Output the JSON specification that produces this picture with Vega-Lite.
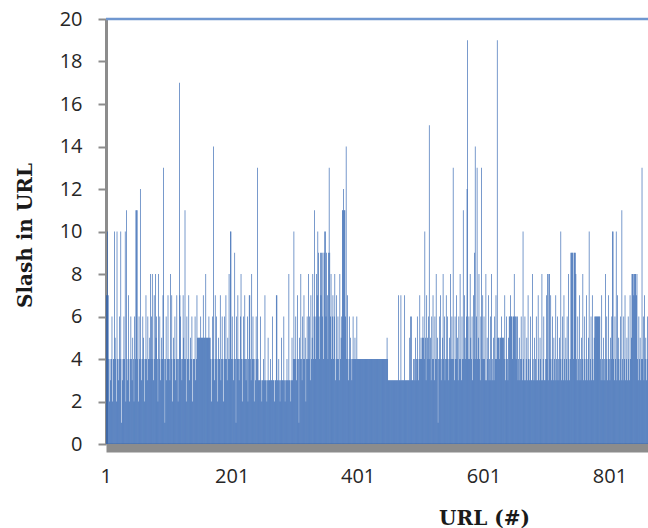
{
"$schema": "https://vega.github.io/schema/vega-lite/v6.json",
"width": 542,
"height": 425,
"autosize": {"type": "none"},
"padding": {"left": 106, "top": 19, "right": 0, "bottom": 84},
"background": "white",
"config": {"view": {"stroke": null}},
"layer": [
{
"data": {"values": [
{"u":1,"s":7},{"u":2,"s":7},{"u":3,"s":10},{"u":4,"s":7},{"u":5,"s":4},{"u":6,"s":2},{"u":7,"s":4},{"u":8,"s":3},{"u":9,"s":4},{"u":10,"s":6},
{"u":11,"s":2},{"u":12,"s":4},{"u":13,"s":4},{"u":14,"s":10},{"u":15,"s":5},{"u":16,"s":4},{"u":17,"s":2},{"u":18,"s":10},{"u":19,"s":4},{"u":20,"s":3},
{"u":21,"s":4},{"u":22,"s":6},{"u":23,"s":4},{"u":24,"s":10},{"u":25,"s":1},{"u":26,"s":4},{"u":27,"s":3},{"u":28,"s":4},{"u":29,"s":6},{"u":30,"s":4},
{"u":31,"s":10},{"u":32,"s":2},{"u":33,"s":11},{"u":34,"s":4},{"u":35,"s":3},{"u":36,"s":7},{"u":37,"s":4},{"u":38,"s":2},{"u":39,"s":4},{"u":40,"s":6},
{"u":41,"s":4},{"u":42,"s":3},{"u":43,"s":5},{"u":44,"s":4},{"u":45,"s":2},{"u":46,"s":6},{"u":47,"s":4},{"u":48,"s":11},{"u":49,"s":11},{"u":50,"s":11},
{"u":51,"s":4},{"u":52,"s":2},{"u":53,"s":6},{"u":54,"s":4},{"u":55,"s":12},{"u":56,"s":4},{"u":57,"s":3},{"u":58,"s":4},{"u":59,"s":6},{"u":60,"s":5},
{"u":61,"s":4},{"u":62,"s":2},{"u":63,"s":4},{"u":64,"s":7},{"u":65,"s":4},{"u":66,"s":3},{"u":67,"s":6},{"u":68,"s":4},{"u":69,"s":4},{"u":70,"s":5},
{"u":71,"s":8},{"u":72,"s":4},{"u":73,"s":6},{"u":74,"s":8},{"u":75,"s":4},{"u":76,"s":3},{"u":77,"s":7},{"u":78,"s":4},{"u":79,"s":8},{"u":80,"s":5},
{"u":81,"s":6},{"u":82,"s":4},{"u":83,"s":2},{"u":84,"s":8},{"u":85,"s":4},{"u":86,"s":6},{"u":87,"s":3},{"u":88,"s":4},{"u":89,"s":5},{"u":90,"s":4},
{"u":91,"s":7},{"u":92,"s":13},{"u":93,"s":4},{"u":94,"s":1},{"u":95,"s":4},{"u":96,"s":6},{"u":97,"s":3},{"u":98,"s":4},{"u":99,"s":7},{"u":100,"s":4},
{"u":101,"s":4},{"u":102,"s":3},{"u":103,"s":8},{"u":104,"s":4},{"u":105,"s":7},{"u":106,"s":2},{"u":107,"s":4},{"u":108,"s":5},{"u":109,"s":4},{"u":110,"s":6},
{"u":111,"s":3},{"u":112,"s":4},{"u":113,"s":7},{"u":114,"s":4},{"u":115,"s":2},{"u":116,"s":4},{"u":117,"s":17},{"u":118,"s":7},{"u":119,"s":6},{"u":120,"s":4},
{"u":121,"s":3},{"u":122,"s":4},{"u":123,"s":7},{"u":124,"s":5},{"u":125,"s":4},{"u":126,"s":11},{"u":127,"s":4},{"u":128,"s":2},{"u":129,"s":6},{"u":130,"s":4},
{"u":131,"s":4},{"u":132,"s":7},{"u":133,"s":3},{"u":134,"s":4},{"u":135,"s":5},{"u":136,"s":4},{"u":137,"s":6},{"u":138,"s":2},{"u":139,"s":4},{"u":140,"s":4},
{"u":141,"s":4},{"u":142,"s":6},{"u":143,"s":3},{"u":144,"s":4},{"u":145,"s":7},{"u":146,"s":5},{"u":147,"s":5},{"u":148,"s":5},{"u":149,"s":5},{"u":150,"s":5},
{"u":151,"s":6},{"u":152,"s":5},{"u":153,"s":5},{"u":154,"s":5},{"u":155,"s":7},{"u":156,"s":5},{"u":157,"s":5},{"u":158,"s":5},{"u":159,"s":8},{"u":160,"s":5},
{"u":161,"s":5},{"u":162,"s":5},{"u":163,"s":5},{"u":164,"s":6},{"u":165,"s":5},{"u":166,"s":5},{"u":167,"s":4},{"u":168,"s":2},{"u":169,"s":4},{"u":170,"s":6},
{"u":171,"s":14},{"u":172,"s":4},{"u":173,"s":3},{"u":174,"s":7},{"u":175,"s":4},{"u":176,"s":6},{"u":177,"s":4},{"u":178,"s":2},{"u":179,"s":5},{"u":180,"s":4},
{"u":181,"s":4},{"u":182,"s":7},{"u":183,"s":3},{"u":184,"s":4},{"u":185,"s":6},{"u":186,"s":4},{"u":187,"s":2},{"u":188,"s":4},{"u":189,"s":6},{"u":190,"s":4},
{"u":191,"s":7},{"u":192,"s":4},{"u":193,"s":3},{"u":194,"s":5},{"u":195,"s":4},{"u":196,"s":8},{"u":197,"s":4},{"u":198,"s":10},{"u":199,"s":10},{"u":200,"s":4},
{"u":201,"s":6},{"u":202,"s":4},{"u":203,"s":3},{"u":204,"s":4},{"u":205,"s":9},{"u":206,"s":4},{"u":207,"s":1},{"u":208,"s":6},{"u":209,"s":4},{"u":210,"s":7},
{"u":211,"s":4},{"u":212,"s":3},{"u":213,"s":4},{"u":214,"s":6},{"u":215,"s":8},{"u":216,"s":4},{"u":217,"s":2},{"u":218,"s":4},{"u":219,"s":6},{"u":220,"s":4},
{"u":221,"s":7},{"u":222,"s":4},{"u":223,"s":3},{"u":224,"s":4},{"u":225,"s":6},{"u":226,"s":2},{"u":227,"s":4},{"u":228,"s":7},{"u":229,"s":7},{"u":230,"s":4},
{"u":231,"s":3},{"u":232,"s":8},{"u":233,"s":4},{"u":234,"s":6},{"u":235,"s":4},{"u":236,"s":2},{"u":237,"s":4},{"u":238,"s":3},{"u":239,"s":6},{"u":240,"s":4},
{"u":241,"s":13},{"u":242,"s":4},{"u":243,"s":3},{"u":244,"s":3},{"u":245,"s":3},{"u":246,"s":6},{"u":247,"s":3},{"u":248,"s":2},{"u":249,"s":3},{"u":250,"s":3},
{"u":251,"s":4},{"u":252,"s":3},{"u":253,"s":7},{"u":254,"s":3},{"u":255,"s":3},{"u":256,"s":2},{"u":257,"s":3},{"u":258,"s":5},{"u":259,"s":3},{"u":260,"s":3},
{"u":261,"s":3},{"u":262,"s":4},{"u":263,"s":3},{"u":264,"s":3},{"u":265,"s":6},{"u":266,"s":3},{"u":267,"s":3},{"u":268,"s":2},{"u":269,"s":3},{"u":270,"s":3},
{"u":271,"s":7},{"u":272,"s":7},{"u":273,"s":3},{"u":274,"s":3},{"u":275,"s":4},{"u":276,"s":3},{"u":277,"s":2},{"u":278,"s":3},{"u":279,"s":5},{"u":280,"s":3},
{"u":281,"s":3},{"u":282,"s":3},{"u":283,"s":6},{"u":284,"s":3},{"u":285,"s":2},{"u":286,"s":3},{"u":287,"s":3},{"u":288,"s":4},{"u":289,"s":3},{"u":290,"s":3},
{"u":291,"s":8},{"u":292,"s":3},{"u":293,"s":3},{"u":294,"s":2},{"u":295,"s":3},{"u":296,"s":5},{"u":297,"s":3},{"u":298,"s":4},{"u":299,"s":10},{"u":300,"s":4},
{"u":301,"s":4},{"u":302,"s":6},{"u":303,"s":3},{"u":304,"s":4},{"u":305,"s":7},{"u":306,"s":4},{"u":307,"s":1},{"u":308,"s":5},{"u":309,"s":4},{"u":310,"s":8},
{"u":311,"s":4},{"u":312,"s":3},{"u":313,"s":6},{"u":314,"s":4},{"u":315,"s":7},{"u":316,"s":4},{"u":317,"s":5},{"u":318,"s":2},{"u":319,"s":4},{"u":320,"s":6},
{"u":321,"s":4},{"u":322,"s":8},{"u":323,"s":4},{"u":324,"s":6},{"u":325,"s":3},{"u":326,"s":7},{"u":327,"s":4},{"u":328,"s":5},{"u":329,"s":8},{"u":330,"s":4},
{"u":331,"s":6},{"u":332,"s":11},{"u":333,"s":4},{"u":334,"s":6},{"u":335,"s":8},{"u":336,"s":7},{"u":337,"s":10},{"u":338,"s":9},{"u":339,"s":6},{"u":340,"s":4},
{"u":341,"s":9},{"u":342,"s":7},{"u":343,"s":9},{"u":344,"s":6},{"u":345,"s":9},{"u":346,"s":4},{"u":347,"s":9},{"u":348,"s":10},{"u":349,"s":10},{"u":350,"s":6},
{"u":351,"s":9},{"u":352,"s":7},{"u":353,"s":4},{"u":354,"s":9},{"u":355,"s":13},{"u":356,"s":9},{"u":357,"s":6},{"u":358,"s":8},{"u":359,"s":4},{"u":360,"s":6},
{"u":361,"s":7},{"u":362,"s":4},{"u":363,"s":6},{"u":364,"s":8},{"u":365,"s":3},{"u":366,"s":4},{"u":367,"s":7},{"u":368,"s":4},{"u":369,"s":6},{"u":370,"s":4},
{"u":371,"s":3},{"u":372,"s":8},{"u":373,"s":4},{"u":374,"s":5},{"u":375,"s":6},{"u":376,"s":11},{"u":377,"s":11},{"u":378,"s":12},{"u":379,"s":11},{"u":380,"s":11},
{"u":381,"s":6},{"u":382,"s":14},{"u":383,"s":4},{"u":384,"s":7},{"u":385,"s":4},{"u":386,"s":3},{"u":387,"s":6},{"u":388,"s":4},{"u":389,"s":5},{"u":390,"s":4},
{"u":391,"s":3},{"u":392,"s":4},{"u":393,"s":6},{"u":394,"s":4},{"u":395,"s":4},{"u":396,"s":5},{"u":397,"s":4},{"u":398,"s":4},{"u":399,"s":6},{"u":400,"s":4},
{"u":401,"s":4},{"u":402,"s":4},{"u":403,"s":4},{"u":404,"s":4},{"u":405,"s":4},{"u":406,"s":4},{"u":407,"s":4},{"u":408,"s":4},{"u":409,"s":4},{"u":410,"s":4},
{"u":411,"s":4},{"u":412,"s":4},{"u":413,"s":4},{"u":414,"s":4},{"u":415,"s":4},{"u":416,"s":4},{"u":417,"s":4},{"u":418,"s":4},{"u":419,"s":4},{"u":420,"s":4},
{"u":421,"s":4},{"u":422,"s":4},{"u":423,"s":4},{"u":424,"s":4},{"u":425,"s":4},{"u":426,"s":4},{"u":427,"s":4},{"u":428,"s":4},{"u":429,"s":4},{"u":430,"s":4},
{"u":431,"s":4},{"u":432,"s":4},{"u":433,"s":4},{"u":434,"s":4},{"u":435,"s":4},{"u":436,"s":4},{"u":437,"s":4},{"u":438,"s":4},{"u":439,"s":4},{"u":440,"s":4},
{"u":441,"s":4},{"u":442,"s":4},{"u":443,"s":4},{"u":444,"s":4},{"u":445,"s":4},{"u":446,"s":4},{"u":447,"s":5},{"u":448,"s":4},{"u":449,"s":3},{"u":450,"s":3},
{"u":451,"s":3},{"u":452,"s":3},{"u":453,"s":3},{"u":454,"s":3},{"u":455,"s":3},{"u":456,"s":3},{"u":457,"s":3},{"u":458,"s":3},{"u":459,"s":3},{"u":460,"s":3},
{"u":461,"s":3},{"u":462,"s":3},{"u":463,"s":3},{"u":464,"s":3},{"u":465,"s":7},{"u":466,"s":3},{"u":467,"s":3},{"u":468,"s":3},{"u":469,"s":7},{"u":470,"s":3},
{"u":471,"s":3},{"u":472,"s":3},{"u":473,"s":3},{"u":474,"s":3},{"u":475,"s":7},{"u":476,"s":3},{"u":477,"s":3},{"u":478,"s":3},{"u":479,"s":3},{"u":480,"s":3},
{"u":481,"s":3},{"u":482,"s":3},{"u":483,"s":5},{"u":484,"s":6},{"u":485,"s":3},{"u":486,"s":6},{"u":487,"s":3},{"u":488,"s":3},{"u":489,"s":4},{"u":490,"s":3},
{"u":491,"s":4},{"u":492,"s":5},{"u":493,"s":3},{"u":494,"s":4},{"u":495,"s":6},{"u":496,"s":4},{"u":497,"s":3},{"u":498,"s":4},{"u":499,"s":7},{"u":500,"s":4},
{"u":501,"s":5},{"u":502,"s":4},{"u":503,"s":5},{"u":504,"s":6},{"u":505,"s":5},{"u":506,"s":4},{"u":507,"s":10},{"u":508,"s":5},{"u":509,"s":3},{"u":510,"s":7},
{"u":511,"s":5},{"u":512,"s":4},{"u":513,"s":6},{"u":514,"s":15},{"u":515,"s":4},{"u":516,"s":5},{"u":517,"s":3},{"u":518,"s":6},{"u":519,"s":4},{"u":520,"s":7},
{"u":521,"s":4},{"u":522,"s":3},{"u":523,"s":6},{"u":524,"s":4},{"u":525,"s":8},{"u":526,"s":4},{"u":527,"s":5},{"u":528,"s":1},{"u":529,"s":4},{"u":530,"s":6},
{"u":531,"s":4},{"u":532,"s":7},{"u":533,"s":3},{"u":534,"s":4},{"u":535,"s":5},{"u":536,"s":8},{"u":537,"s":4},{"u":538,"s":6},{"u":539,"s":3},{"u":540,"s":4},
{"u":541,"s":7},{"u":542,"s":4},{"u":543,"s":6},{"u":544,"s":4},{"u":545,"s":3},{"u":546,"s":5},{"u":547,"s":4},{"u":548,"s":8},{"u":549,"s":4},{"u":550,"s":6},
{"u":551,"s":4},{"u":552,"s":13},{"u":553,"s":4},{"u":554,"s":3},{"u":555,"s":6},{"u":556,"s":4},{"u":557,"s":7},{"u":558,"s":4},{"u":559,"s":5},{"u":560,"s":3},
{"u":561,"s":6},{"u":562,"s":4},{"u":563,"s":8},{"u":564,"s":4},{"u":565,"s":3},{"u":566,"s":6},{"u":567,"s":4},{"u":568,"s":11},{"u":569,"s":4},{"u":570,"s":7},
{"u":571,"s":5},{"u":572,"s":4},{"u":573,"s":6},{"u":574,"s":12},{"u":575,"s":19},{"u":576,"s":4},{"u":577,"s":6},{"u":578,"s":4},{"u":579,"s":8},{"u":580,"s":5},
{"u":581,"s":4},{"u":582,"s":6},{"u":583,"s":3},{"u":584,"s":7},{"u":585,"s":4},{"u":586,"s":9},{"u":587,"s":14},{"u":588,"s":4},{"u":589,"s":6},{"u":590,"s":13},
{"u":591,"s":4},{"u":592,"s":5},{"u":593,"s":8},{"u":594,"s":4},{"u":595,"s":3},{"u":596,"s":6},{"u":597,"s":13},{"u":598,"s":4},{"u":599,"s":7},{"u":600,"s":4},
{"u":601,"s":6},{"u":602,"s":4},{"u":603,"s":3},{"u":604,"s":8},{"u":605,"s":3},{"u":606,"s":5},{"u":607,"s":4},{"u":608,"s":7},{"u":609,"s":3},{"u":610,"s":4},
{"u":611,"s":6},{"u":612,"s":3},{"u":613,"s":8},{"u":614,"s":4},{"u":615,"s":3},{"u":616,"s":5},{"u":617,"s":3},{"u":618,"s":6},{"u":619,"s":4},{"u":620,"s":7},
{"u":621,"s":4},{"u":622,"s":19},{"u":623,"s":5},{"u":624,"s":5},{"u":625,"s":5},{"u":626,"s":4},{"u":627,"s":5},{"u":628,"s":5},{"u":629,"s":6},{"u":630,"s":5},
{"u":631,"s":5},{"u":632,"s":5},{"u":633,"s":4},{"u":634,"s":7},{"u":635,"s":3},{"u":636,"s":4},{"u":637,"s":6},{"u":638,"s":4},{"u":639,"s":3},{"u":640,"s":5},
{"u":641,"s":6},{"u":642,"s":6},{"u":643,"s":7},{"u":644,"s":6},{"u":645,"s":6},{"u":646,"s":4},{"u":647,"s":6},{"u":648,"s":6},{"u":649,"s":8},{"u":650,"s":6},
{"u":651,"s":6},{"u":652,"s":4},{"u":653,"s":6},{"u":654,"s":6},{"u":655,"s":3},{"u":656,"s":4},{"u":657,"s":5},{"u":658,"s":3},{"u":659,"s":4},{"u":660,"s":6},
{"u":661,"s":4},{"u":662,"s":3},{"u":663,"s":10},{"u":664,"s":4},{"u":665,"s":3},{"u":666,"s":6},{"u":667,"s":3},{"u":668,"s":4},{"u":669,"s":5},{"u":670,"s":3},
{"u":671,"s":7},{"u":672,"s":4},{"u":673,"s":3},{"u":674,"s":4},{"u":675,"s":6},{"u":676,"s":3},{"u":677,"s":3},{"u":678,"s":8},{"u":679,"s":4},{"u":680,"s":3},
{"u":681,"s":5},{"u":682,"s":3},{"u":683,"s":4},{"u":684,"s":6},{"u":685,"s":3},{"u":686,"s":3},{"u":687,"s":7},{"u":688,"s":4},{"u":689,"s":3},{"u":690,"s":5},
{"u":691,"s":4},{"u":692,"s":3},{"u":693,"s":8},{"u":694,"s":3},{"u":695,"s":4},{"u":696,"s":6},{"u":697,"s":3},{"u":698,"s":3},{"u":699,"s":4},{"u":700,"s":7},
{"u":701,"s":4},{"u":702,"s":8},{"u":703,"s":3},{"u":704,"s":8},{"u":705,"s":8},{"u":706,"s":4},{"u":707,"s":7},{"u":708,"s":3},{"u":709,"s":4},{"u":710,"s":6},
{"u":711,"s":3},{"u":712,"s":5},{"u":713,"s":4},{"u":714,"s":3},{"u":715,"s":7},{"u":716,"s":4},{"u":717,"s":3},{"u":718,"s":6},{"u":719,"s":4},{"u":720,"s":3},
{"u":721,"s":5},{"u":722,"s":4},{"u":723,"s":10},{"u":724,"s":3},{"u":725,"s":4},{"u":726,"s":6},{"u":727,"s":3},{"u":728,"s":7},{"u":729,"s":4},{"u":730,"s":3},
{"u":731,"s":5},{"u":732,"s":4},{"u":733,"s":6},{"u":734,"s":3},{"u":735,"s":8},{"u":736,"s":4},{"u":737,"s":3},{"u":738,"s":4},{"u":739,"s":9},{"u":740,"s":9},
{"u":741,"s":9},{"u":742,"s":9},{"u":743,"s":4},{"u":744,"s":9},{"u":745,"s":9},{"u":746,"s":9},{"u":747,"s":8},{"u":748,"s":4},{"u":749,"s":3},{"u":750,"s":6},
{"u":751,"s":4},{"u":752,"s":3},{"u":753,"s":7},{"u":754,"s":4},{"u":755,"s":3},{"u":756,"s":5},{"u":757,"s":4},{"u":758,"s":8},{"u":759,"s":3},{"u":760,"s":4},
{"u":761,"s":6},{"u":762,"s":3},{"u":763,"s":4},{"u":764,"s":7},{"u":765,"s":3},{"u":766,"s":4},{"u":767,"s":5},{"u":768,"s":10},{"u":769,"s":3},{"u":770,"s":4},
{"u":771,"s":6},{"u":772,"s":3},{"u":773,"s":7},{"u":774,"s":4},{"u":775,"s":3},{"u":776,"s":5},{"u":777,"s":6},{"u":778,"s":6},{"u":779,"s":6},{"u":780,"s":6},
{"u":781,"s":6},{"u":782,"s":6},{"u":783,"s":6},{"u":784,"s":6},{"u":785,"s":6},{"u":786,"s":4},{"u":787,"s":3},{"u":788,"s":7},{"u":789,"s":4},{"u":790,"s":3},
{"u":791,"s":5},{"u":792,"s":4},{"u":793,"s":3},{"u":794,"s":8},{"u":795,"s":4},{"u":796,"s":6},{"u":797,"s":3},{"u":798,"s":4},{"u":799,"s":7},{"u":800,"s":4},
{"u":801,"s":3},{"u":802,"s":5},{"u":803,"s":4},{"u":804,"s":6},{"u":805,"s":10},{"u":806,"s":10},{"u":807,"s":4},{"u":808,"s":3},{"u":809,"s":6},{"u":810,"s":4},
{"u":811,"s":10},{"u":812,"s":3},{"u":813,"s":7},{"u":814,"s":4},{"u":815,"s":5},{"u":816,"s":3},{"u":817,"s":4},{"u":818,"s":6},{"u":819,"s":3},{"u":820,"s":11},
{"u":821,"s":4},{"u":822,"s":3},{"u":823,"s":6},{"u":824,"s":4},{"u":825,"s":7},{"u":826,"s":3},{"u":827,"s":4},{"u":828,"s":5},{"u":829,"s":3},{"u":830,"s":6},
{"u":831,"s":4},{"u":832,"s":3},{"u":833,"s":7},{"u":834,"s":4},{"u":835,"s":5},{"u":836,"s":8},{"u":837,"s":8},{"u":838,"s":8},{"u":839,"s":7},{"u":840,"s":8},
{"u":841,"s":8},{"u":842,"s":8},{"u":843,"s":7},{"u":844,"s":8},{"u":845,"s":4},{"u":846,"s":3},{"u":847,"s":6},{"u":848,"s":4},{"u":849,"s":5},{"u":850,"s":3},
{"u":851,"s":4},{"u":852,"s":13},{"u":853,"s":4},{"u":854,"s":6},{"u":855,"s":3},{"u":856,"s":7},{"u":857,"s":4},{"u":858,"s":5},{"u":859,"s":3},{"u":860,"s":4},
{"u":861,"s":6}
]},
"mark": {"type": "bar", "color": "#2a5fae"},
"encoding": {
"x": {"field": "u", "type": "ordinal", "scale": {"paddingInner": 0, "paddingOuter": 0},
"axis": {"values": [1, 201, 401, 601, 801], "labelAngle": 0, "ticks": false, "tickSize": 0, "grid": false,
"domainColor": "#8c8c8c", "domainWidth": 9, "offset": 3.5, "labelPadding": 19,
"labelFont": "Open Sans", "labelFontSize": 20, "labelColor": "#262626",
"title": "URL (#)", "titleFont": "DejaVu Serif", "titleFontWeight": "bold", "titleFontSize": 20, "titleColor": "#1a1a1a",
"titleX": 378, "titleY": 76.5, "titleAlign": "center", "titleBaseline": "alphabetic"}},
"y": {"field": "s", "type": "quantitative", "scale": {"domain": [0, 20]},
"axis": {"values": [0, 2, 4, 6, 8, 10, 12, 14, 16, 18, 20], "grid": false,
"domainColor": "#8c8c8c", "domainWidth": 3, "tickColor": "#8c8c8c", "tickSize": 8, "tickWidth": 2,
"labelPadding": 16, "labelFont": "Open Sans", "labelFontSize": 20, "labelColor": "#262626",
"title": "Slash in URL", "titleFont": "DejaVu Serif", "titleFontWeight": "bold", "titleFontSize": 20, "titleColor": "#1a1a1a",
"titleAngle": 270, "titleX": -75, "titleY": 216, "titleAlign": "center", "titleBaseline": "alphabetic"}}
}
},
{
"data": {"values": [{}]},
"mark": {"type": "rule", "color": "#6f97d0", "strokeWidth": 2.5},
"encoding": {"y": {"datum": 20}}
}
]
}
